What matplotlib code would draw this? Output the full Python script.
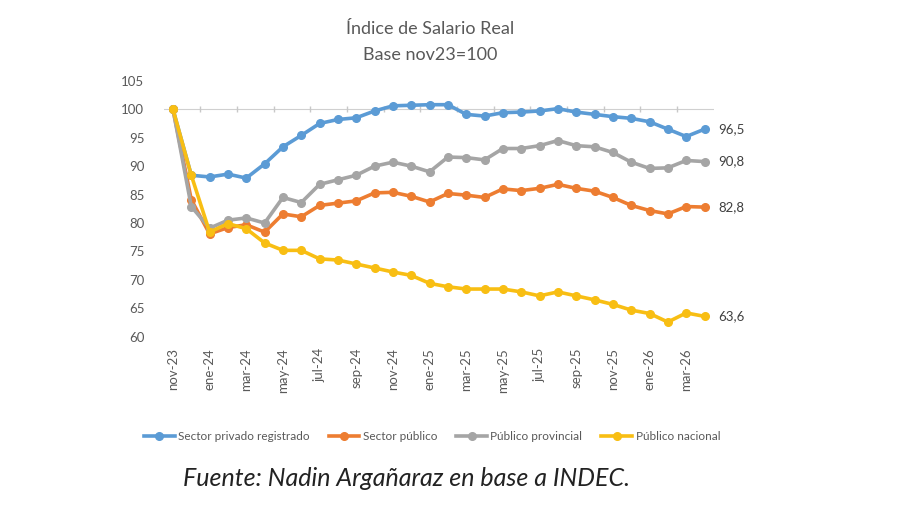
import matplotlib
matplotlib.use("Agg")
import matplotlib.pyplot as plt

months = ["nov-23", "dic-23", "ene-24", "feb-24", "mar-24", "abr-24", "may-24", "jun-24",
          "jul-24", "ago-24", "sep-24", "oct-24", "nov-24", "dic-24", "ene-25", "feb-25",
          "mar-25", "abr-25", "may-25", "jun-25", "jul-25", "ago-25", "sep-25", "oct-25",
          "nov-25", "dic-25", "ene-26", "feb-26", "mar-26", "abr-26"]

privado = [100, 88.4, 88.1, 88.6, 87.9, 90.4, 93.4, 95.4, 97.5, 98.2, 98.5, 99.7, 100.6, 100.7,
           100.8, 100.8, 99.1, 98.8, 99.4, 99.5, 99.7, 100.1, 99.5, 99.1, 98.7, 98.4, 97.8,
           96.5, 95.2, 96.5]
publico = [100, 84.1, 78.1, 79.2, 79.7, 78.4, 81.6, 81.1, 83.1, 83.5, 83.9, 85.3, 85.4, 84.7,
           83.7, 85.2, 84.9, 84.5, 86.0, 85.7, 86.1, 86.8, 86.1, 85.6, 84.5, 83.1, 82.2,
           81.6, 82.9, 82.8]
provincial = [100, 82.9, 79.1, 80.5, 80.9, 80.0, 84.5, 83.6, 86.8, 87.6, 88.4, 90.0, 90.7, 90.0,
              89.0, 91.6, 91.5, 91.1, 93.1, 93.1, 93.6, 94.5, 93.6, 93.4, 92.4, 90.7, 89.6,
              89.7, 91.0, 90.8]
nacional = [100, 88.4, 78.4, 79.9, 79.0, 76.5, 75.2, 75.2, 73.7, 73.5, 72.8, 72.1, 71.4, 70.8,
            69.4, 68.8, 68.4, 68.4, 68.4, 67.9, 67.2, 67.9, 67.2, 66.5, 65.7, 64.7, 64.1,
            62.6, 64.2, 63.6]

series = [
    ("Sector privado registrado", privado, "#5B9BD5", "96,5"),
    ("Sector público", publico, "#ED7D31", "82,8"),
    ("Público provincial", provincial, "#A5A5A5", "90,8"),
    ("Público nacional", nacional, "#F8BE13", "63,6"),
]

plt.rcParams["font.family"] = ["Lato", "DejaVu Sans"]

fig = plt.figure(figsize=(9, 5.05), dpi=100)
ax = fig.add_axes([0.182, 0.333, 0.611, 0.507])

x = list(range(len(months)))
for name, vals, color, lab in series:
    ax.plot(x, vals, color=color, lw=2.6, marker="o", ms=5.5, label=name)
    ax.annotate(lab, (x[-1], vals[-1]), xytext=(10, 0), textcoords="offset points",
                va="center", ha="left", fontsize=9.5, color="#404040")

# horizontal category axis line at 100 with tick marks between categories
ax.axhline(100, color="#D0D0D0", lw=0.8, zorder=0)
ticks_between = [i + 0.5 for i in range(1, len(months) - 1, 2)]
ax.plot(ticks_between, [100] * len(ticks_between), ls="none", marker="|",
        ms=5, color="#C8C8C8", zorder=0)

ax.set_xlim(-0.5, len(months) - 0.5)
ax.set_ylim(60, 105)
ax.set_yticks(range(60, 106, 5))
ax.set_xticks(x[::2])
ax.set_xticklabels(months[::2], rotation=90)
ax.tick_params(axis="both", length=0, labelsize=9.5, labelcolor="#595959")
ax.tick_params(axis="y", pad=14)
ax.tick_params(axis="x", pad=8)
for s in ax.spines.values():
    s.set_visible(False)

fig.text(0.478, 0.942, "Índice de Salario Real", ha="center", va="center",
         fontsize=13, color="#595959")
fig.text(0.478, 0.892, "Base nov23=100", ha="center", va="center",
         fontsize=13, color="#595959")

fig.legend(loc="center", bbox_to_anchor=(0.48, 0.135), ncol=4, frameon=False,
           fontsize=8.5, handlelength=2.6, columnspacing=1.6, handletextpad=0.3,
           labelcolor="#595959")

fig.text(0.203, 0.053, "Fuente: Nadin Argañaraz en base a INDEC.", ha="left",
         va="center", fontsize=18, style="italic", color="#222222")

fig.savefig("out.png", dpi=100, facecolor="white")
